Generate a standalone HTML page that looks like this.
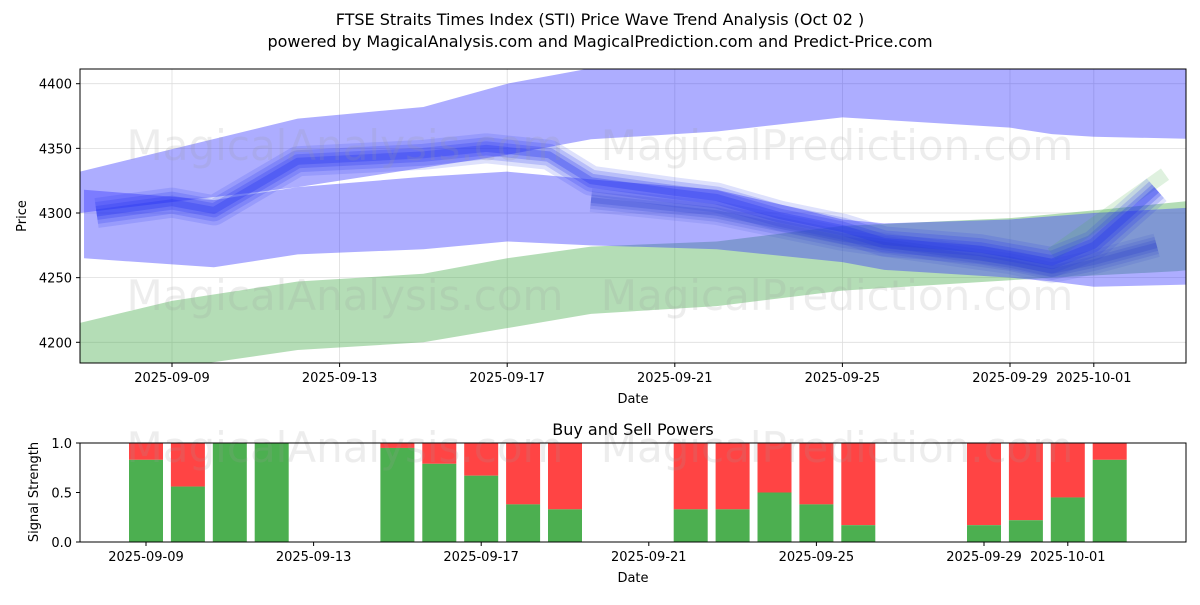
<!DOCTYPE html>
<html><head><meta charset="utf-8"><style>
body{margin:0;background:#fff;font-family:"Liberation Sans","DejaVu Sans",sans-serif}
svg text{font-family:"DejaVu Sans","Liberation Sans",sans-serif}
</style></head><body>
<svg id="c" width="1200" height="600" xmlns="http://www.w3.org/2000/svg"></svg>
<script>
// data: day offsets from 2025-09-09
const bandAUpperDays=[-2.2,3,6,8,10,13,24.8];
const bandAUpperVals=[4332,4373,4382,4400,4412,4420,4420];
const bandALowerDays=[24.8,22,21,20,16,13,10,8,6,3,-2.2];
const bandALowerVals=[4357,4359,4361,4366,4374,4363,4357,4345,4335,4320,4300];
const bandCUpperDays=[-2.1,1,3,6,8,10,13,15,16,17,20,22,24.8];
const bandCUpperVals=[4318,4310,4320,4328,4332,4326,4318,4303,4295,4292,4295,4300,4305];
const bandCLowerDays=[24.8,22,21,20,17,16,13,10,8,6,3,1,-2.1];
const bandCLowerVals=[4245,4243,4247,4250,4256,4262,4272,4275,4278,4272,4268,4258,4265];
const greenUpperDays=[-2.2,0,3,6,8,10,13,16,20,22,24.5,24.8];
const greenUpperVals=[4215,4232,4247,4253,4265,4274,4278,4290,4296,4302,4310,4258];
const greenLowerDays=[24.8,24,21,20,16,13,10,6,3,0,-2.2];
const greenLowerVals=[4258,4255,4250,4248,4240,4228,4222,4200,4194,4180,4172];
const lineDays=[-1.8,0,1,3,6,7.5,9,10,12,13,14.5,16,17,19.3,21,22,23.5];
const lineVals=[4300,4308,4302,4340,4345,4350,4345,4325,4316,4312,4298,4288,4278,4272,4262,4275,4318];
const line2Days=[10,13,16,20,21,22,23.5];
const line2Vals=[4310,4300,4280,4262,4255,4262,4275];
const spikeDays=[21,23.7];
const spikeVals=[4268,4330];
const xTickLabels=["2025-09-09","2025-09-13","2025-09-17","2025-09-21","2025-09-25","2025-09-29","2025-10-01"];
const xTickDays=[0,4,8,12,16,20,22];
const yTicks=[4200,4250,4300,4350,4400];
const barDays=[0,1,2,3,6,7,8,9,10,13,14,15,16,17,20,21,22,23];
const buyVals=[0.83,0.56,1.0,1.0,0.95,0.79,0.67,0.38,0.33,0.33,0.33,0.5,0.38,0.17,0.17,0.22,0.45,0.83];
const sigTicks=[0,0.5,1.0];

const NS="http://www.w3.org/2000/svg",svg=document.getElementById('c');
function el(t,a,p){const e=document.createElementNS(NS,t);for(const k in a)e.setAttribute(k,a[k]);(p||svg).appendChild(e);return e;}
const X=d=>172+d*41.9;
const Y=v=>213-(v-4300)*1.293;
const Y2=v=>542-v*99;
function pts(ds,vs,f){return ds.map((d,i)=>X(d)+','+f(vs[i])).join(' ');}

let t=el('text',{x:600,y:25,'text-anchor':'middle','font-size':16});t.textContent="FTSE Straits Times Index (STI) Price Wave Trend Analysis (Oct 02 )";

t=el('text',{x:600,y:47,'text-anchor':'middle','font-size':16});t.textContent="powered by MagicalAnalysis.com and MagicalPrediction.com and Predict-Price.com";


const cp=el('clipPath',{id:'cp'});el('rect',{x:80,y:69,width:1106,height:294},cp);
const g=el('g',{'clip-path':'url(#cp)'});

xTickDays.forEach(d=>el('line',{x1:X(d),x2:X(d),y1:69,y2:363,stroke:'#ddd','stroke-width':0.8},g));
yTicks.forEach(v=>el('line',{x1:80,x2:1186,y1:Y(v),y2:Y(v),stroke:'#ddd','stroke-width':0.8},g));
let p=el('polygon',{points:pts(greenUpperDays,greenUpperVals,Y)+' '+pts(greenLowerDays,greenLowerVals,Y),fill:'#4caf50','fill-opacity':0.42},g);

p=el('polygon',{points:pts(bandAUpperDays,bandAUpperVals,Y)+' '+pts(bandALowerDays,bandALowerVals,Y),fill:'#3333ff','fill-opacity':0.4},g);

p=el('polygon',{points:pts(bandCUpperDays,bandCUpperVals,Y)+' '+pts(bandCLowerDays,bandCLowerVals,Y),fill:'#3333ff','fill-opacity':0.4},g);

let s=el('polyline',{points:pts(spikeDays,spikeVals,Y),fill:'none',stroke:'#4caf50','stroke-width':14,'stroke-opacity':0.18},g);

[[30,0.15],[22,0.2],[14,0.25],[7,0.3]].forEach(([w,o])=>{
 let l=el('polyline',{points:pts(lineDays,lineVals,Y),fill:'none',stroke:'#2233ee','stroke-width':w,'stroke-opacity':o,'stroke-linejoin':'round'},g);
 
 l=el('polyline',{points:pts(line2Days,line2Vals,Y),fill:'none',stroke:'#2a3fcc','stroke-width':w*0.8,'stroke-opacity':o*0.8,'stroke-linejoin':'round'},g);
 
});
[["MagicalAnalysis.com",345,160],["MagicalPrediction.com",837,160],["MagicalAnalysis.com",345,310],["MagicalPrediction.com",837,310]].forEach(w=>{
 let tt=el('text',{x:w[1],y:w[2],'text-anchor':'middle','font-size':42,fill:'#999','fill-opacity':0.18},g);tt.textContent=w[0];
 
});
el('rect',{x:80,y:69,width:1106,height:294,fill:'none',stroke:'#000','stroke-width':1});
yTicks.forEach(v=>{el('line',{x1:76,x2:80,y1:Y(v),y2:Y(v),stroke:'#000'});
 let tt=el('text',{x:72,y:Y(v)+5,'text-anchor':'end','font-size':13});tt.textContent=v;
 });
xTickDays.forEach((d,i)=>{el('line',{x1:X(d),x2:X(d),y1:363,y2:367,stroke:'#000'});
 let tt=el('text',{x:X(d),y:382,'text-anchor':'middle','font-size':13});tt.textContent=xTickLabels[i];
 });
t=el('text',{x:633,y:403,'text-anchor':'middle','font-size':13});t.textContent="Date";

t=el('text',{x:26,y:216,'text-anchor':'middle','font-size':13,transform:'rotate(-90 26 216)'});t.textContent="Price";


t=el('text',{x:633,y:435,'text-anchor':'middle','font-size':16});t.textContent="Buy and Sell Powers";

const g2=el('g',{});
barDays.forEach((d,i)=>{
 const cx=X(d)-26;
 let r=el('rect',{x:cx-17,y:Y2(1),width:34,height:Y2(buyVals[i])-Y2(1),fill:'#ff4444'},g2);
 
 r=el('rect',{x:cx-17,y:Y2(buyVals[i]),width:34,height:Y2(0)-Y2(buyVals[i]),fill:'#4caf50'},g2);
 
});
[["MagicalAnalysis.com",345,462],["MagicalPrediction.com",837,462]].forEach(w=>{
 let tt=el('text',{x:w[1],y:w[2],'text-anchor':'middle','font-size':42,fill:'#999','fill-opacity':0.18});tt.textContent=w[0];
 
});
el('rect',{x:80,y:443,width:1106,height:99,fill:'none',stroke:'#000'});
sigTicks.forEach(v=>{el('line',{x1:76,x2:80,y1:Y2(v),y2:Y2(v),stroke:'#000'});
 let tt=el('text',{x:72,y:Y2(v)+5,'text-anchor':'end','font-size':13});tt.textContent=v.toFixed(1);
 });
xTickDays.forEach((d,i)=>{el('line',{x1:X(d)-26,x2:X(d)-26,y1:542,y2:546,stroke:'#000'});
 let tt=el('text',{x:X(d)-26,y:561,'text-anchor':'middle','font-size':13});tt.textContent=xTickLabels[i];
 });
t=el('text',{x:633,y:582,'text-anchor':'middle','font-size':13});t.textContent="Date";

t=el('text',{x:38,y:492,'text-anchor':'middle','font-size':13,transform:'rotate(-90 38 492)'});t.textContent="Signal Strength";

</script>
</body></html>
